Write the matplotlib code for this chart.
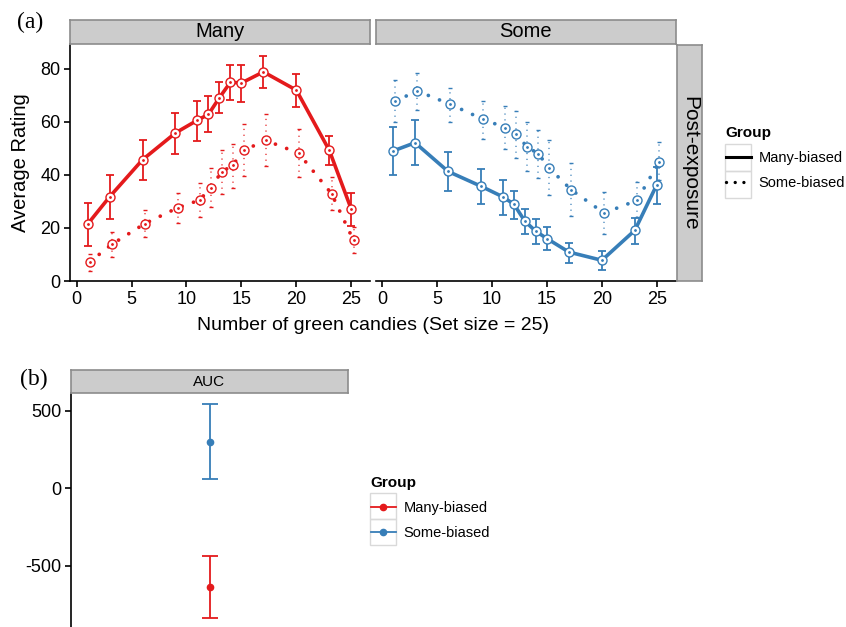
import numpy as np
import matplotlib
matplotlib.use("Agg")
import matplotlib.pyplot as plt
from matplotlib.lines import Line2D
from matplotlib.patches import Rectangle

W, H = 846, 627
RED = "#E41A1C"
BLUE = "#377EB8"

x = [1, 3, 6, 9, 11, 12, 13, 14, 15, 17, 20, 23, 25]

# panel "Many"
many_mb = [21.4, 31.7, 45.7, 55.8, 60.6, 62.8, 69.1, 74.9, 74.6, 78.8, 71.9, 49.2, 27.0]
many_mb_lo = [13.1, 23.5, 38.2, 48.0, 52.8, 56.0, 63.3, 68.1, 67.5, 72.7, 65.6, 43.8, 20.7]
many_mb_hi = [29.4, 39.8, 53.3, 63.4, 67.8, 69.6, 75.0, 81.3, 81.5, 84.8, 78.0, 54.6, 33.2]
many_sb = [7.2, 13.8, 21.6, 27.6, 30.5, 35.2, 41.1, 43.6, 49.2, 53.0, 48.2, 32.9, 15.3]
many_sb_lo = [3.8, 9.0, 16.6, 21.9, 24.1, 27.9, 32.7, 35.2, 39.4, 43.2, 39.2, 26.6, 10.6]
many_sb_hi = [10.3, 18.5, 26.6, 33.2, 36.9, 42.6, 49.5, 51.8, 59.3, 62.8, 57.4, 39.2, 20.4]

# panel "Some"
some_mb = [49.0, 52.1, 41.3, 35.7, 31.7, 28.9, 22.5, 18.7, 16.0, 10.9, 7.8, 19.1, 36.3]
some_mb_lo = [39.8, 43.6, 33.9, 28.9, 25.0, 23.2, 17.6, 13.8, 11.6, 6.8, 4.3, 13.8, 29.1]
some_mb_hi = [58.0, 60.6, 48.6, 42.3, 37.9, 33.9, 27.3, 23.2, 20.4, 14.3, 11.2, 23.9, 43.0]
some_sb = [67.8, 71.6, 66.6, 60.9, 57.8, 55.3, 50.5, 48.0, 42.6, 34.4, 25.6, 30.4, 44.8]
some_sb_lo = [59.9, 64.6, 59.9, 53.6, 49.9, 46.5, 41.5, 38.9, 32.3, 24.4, 17.6, 24.1, 38.2]
some_sb_hi = [75.6, 78.4, 72.9, 67.8, 65.8, 64.1, 59.9, 57.0, 53.0, 44.5, 33.5, 37.3, 52.4]

# AUC panel
groups = ["Many-biased", "Some-biased"]
auc = [-636, 300]
auc_lo = [-834, 58]
auc_hi = [-435, 544]

dodge = 0.2
dots_line = (0, (0.01, 3.2))
dots_bar = (0, (0.01, 3.8))

plt.rcParams["font.family"] = ["Liberation Sans", "DejaVu Sans"]
plt.rcParams["axes.unicode_minus"] = False


def box(l, t, r, b):
    return [l / W, 1 - b / H, (r - l) / W, (b - t) / H]


def strip(l, t, r, b, text, size=13, rot=0):
    s = fig.add_axes(box(l, t, r, b))
    s.set_facecolor("#CCCCCC")
    for sp in s.spines.values():
        sp.set_color("#8C8C8C")
        sp.set_linewidth(1.2)
    s.set_xticks([])
    s.set_yticks([])
    s.text(0.5, 0.5, text, ha="center", va="center", fontsize=size,
           rotation=rot, transform=s.transAxes)


def series(ax, xs, y, lo, hi, color, solid):
    xs = np.array(xs, dtype=float)
    y = np.array(y)
    err = [y - np.array(lo), np.array(hi) - y]
    if solid:
        ax.plot(xs, y, color=color, lw=2.6, zorder=3)
        ax.errorbar(xs, y, yerr=err, fmt="none", ecolor=color, elinewidth=1.3,
                    capsize=2.8, capthick=1.3, zorder=3)
    else:
        ax.plot(xs, y, color=color, lw=2.7, ls=dots_line, dash_capstyle="round",
                zorder=3)
        eb = ax.errorbar(xs, y, yerr=err, fmt="none", ecolor=color, elinewidth=1.1,
                         capsize=1.5, capthick=1.0, zorder=3)
        eb[2][0].set_linestyle(dots_bar)
        eb[2][0].set_capstyle("round")
    ax.plot(xs, y, "o", mfc="white", mec=color, ms=6.5, mew=1.0, ls="none", zorder=4)
    ax.plot(xs, y, ".", color=color, ms=2, zorder=5)


def key_boxes(x0, y0, n, w=26, h=27):
    for i in range(n):
        fig.patches.append(Rectangle((x0 / W, 1 - (y0 + (i + 1) * h) / H), w / W, h / H,
                                     transform=fig.transFigure, fill=False,
                                     edgecolor="#D9D9D9", lw=1.0))


fig = plt.figure(figsize=(W / 100, H / 100), dpi=100)

ax1 = fig.add_axes(box(70, 44, 370, 281))
ax2 = fig.add_axes(box(375.5, 44, 675.5, 281))

series(ax1, x, many_mb, many_mb_lo, many_mb_hi, RED, True)
series(ax1, np.array(x) + dodge, many_sb, many_sb_lo, many_sb_hi, RED, False)
series(ax2, x, some_mb, some_mb_lo, some_mb_hi, BLUE, True)
series(ax2, np.array(x) + dodge, some_sb, some_sb_lo, some_sb_hi, BLUE, False)

for ax in (ax1, ax2):
    ax.set_xlim(-0.6, 26.7)
    ax.set_ylim(0, 89.3)
    ax.set_xticks([0, 5, 10, 15, 20, 25])
    ax.spines["top"].set_visible(False)
    ax.spines["right"].set_visible(False)
    ax.spines["bottom"].set_linewidth(1.2)
    ax.spines["left"].set_linewidth(1.2)
    ax.tick_params(length=4, width=1.2, labelsize=13, colors="black", pad=3)
ax1.set_yticks([0, 20, 40, 60, 80])
ax2.spines["left"].set_visible(False)
ax2.set_yticks([])
ax1.set_ylabel("Average Rating", fontsize=14.5, labelpad=7)
fig.text(373 / W, 1 - 326 / H, "Number of green candies (Set size = 25)",
         ha="center", va="center", fontsize=14)

strip(70, 19.5, 370, 44, "Many", size=14.5)
strip(375.5, 19.5, 675.5, 44, "Some", size=14.5)
strip(677, 45, 702, 281, "Post-exposure", size=15, rot=270)

fig.text(30 / W, 1 - 22 / H, "(a)", fontsize=17, family="Liberation Serif",
         ha="center", va="center")
fig.text(34 / W, 1 - 379 / H, "(b)", fontsize=17, family="Liberation Serif",
         ha="center", va="center")

# top legend
lh = [Line2D([], [], color="black", lw=2.2),
      Line2D([], [], color="black", lw=2.4, ls=(0, (0.01, 2.6)),
             dash_capstyle="round")]
leg = fig.legend(lh, groups, title="Group", loc="upper left",
                 bbox_to_anchor=(720 / W, 1 - 120 / H), frameon=False,
                 fontsize=10.5, title_fontsize=11, handlelength=1.7,
                 handletextpad=0.55, labelspacing=0.75, alignment="left",
                 borderaxespad=0)
leg.get_title().set_fontweight("bold")
key_boxes(725, 144, 2)

# bottom panel
ax3 = fig.add_axes(box(71, 393, 348, 627))
for i, g in enumerate(groups):
    c = [RED, BLUE][i]
    ax3.errorbar([1], [auc[i]], yerr=[[auc[i] - auc_lo[i]], [auc_hi[i] - auc[i]]],
                 fmt="o", color=c, ms=4.5, elinewidth=1.3, capsize=6, capthick=1.3)
ax3.set_xlim(0.4, 1.6)
ax3.set_ylim(-895, 614)
ax3.set_yticks([-500, 0, 500])
ax3.set_xticks([])
for s in ("top", "right", "bottom"):
    ax3.spines[s].set_visible(False)
ax3.spines["left"].set_linewidth(1.2)
ax3.tick_params(length=4, width=1.2, labelsize=13, pad=3)
strip(71, 370, 348, 393, "AUC", size=11)

bh = [Line2D([], [], color=RED, marker="o", ms=4.5, lw=1.3),
      Line2D([], [], color=BLUE, marker="o", ms=4.5, lw=1.3)]
leg2 = fig.legend(bh, groups, title="Group", loc="upper left",
                  bbox_to_anchor=(365 / W, 1 - 470 / H), frameon=False,
                  fontsize=10.5, title_fontsize=11, handlelength=1.7,
                  handletextpad=0.55, labelspacing=0.75, alignment="left",
                  borderaxespad=0)
leg2.get_title().set_fontweight("bold")
key_boxes(370, 493, 2, h=26)

fig.savefig("out.png", dpi=100)
